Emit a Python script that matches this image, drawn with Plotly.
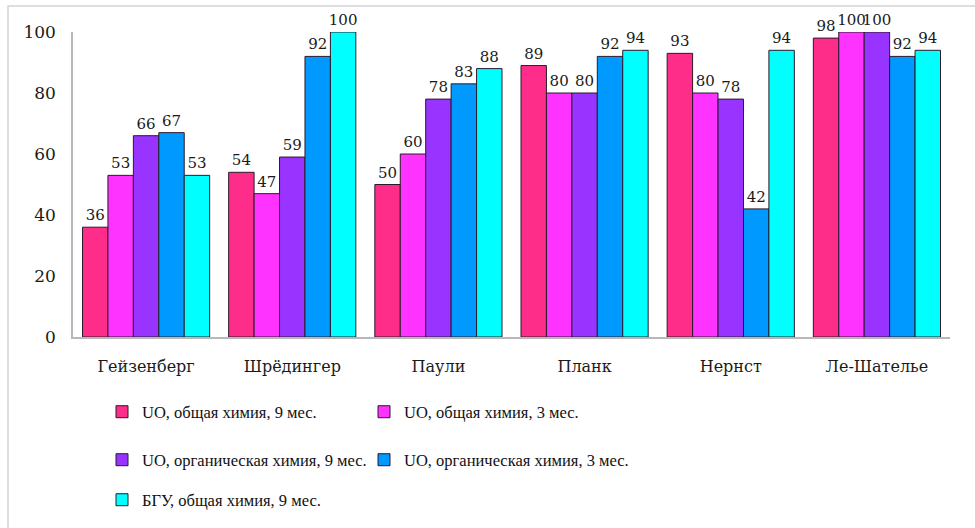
import plotly.graph_objects as go

# Categories (scientist names) and series values, %
categories = ["Гейзенберг", "Шрёдингер", "Паули", "Планк", "Нернст", "Ле-Шателье"]
series_names = [
    "UO, общая химия, 9 мес.",
    "UO, общая химия, 3 мес.",
    "UO, органическая химия, 9 мес.",
    "UO, органическая химия, 3 мес.",
    "БГУ, общая химия, 9 мес.",
]
uo_general_9 = [36, 54, 50, 89, 93, 98]
uo_general_3 = [53, 47, 60, 80, 80, 100]
uo_organic_9 = [66, 59, 78, 80, 78, 100]
uo_organic_3 = [67, 92, 83, 92, 42, 92]
bsu_general_9 = [53, 100, 88, 94, 94, 94]
series_values = [uo_general_9, uo_general_3, uo_organic_9, uo_organic_3, bsu_general_9]
y_ticks = [0, 20, 40, 60, 80, 100]

colors = ["#FF2D8A", "#FF33FF", "#9933FF", "#0099FF", "#00FFFF"]

W, H = 975, 528
ML, MR, MT, MB = 73, 25, 32, 190
PW, PH = W - ML - MR, H - MT - MB


def px_to_paper_x(px):
    return (px - ML) / PW


def px_to_paper_y(py):
    return (H - MB - py) / PH


# one legend box per entry, laid out as a two-column grid below the chart
legend_ids = ["legend", "legend2", "legend3", "legend4", "legend5"]
legend_pos = [(102, 412), (364, 412), (102, 460), (364, 460), (102, 500)]

fig = go.Figure()
for name, vals, col, lg in zip(series_names, series_values, colors, legend_ids):
    fig.add_trace(go.Bar(
        name=name,
        x=categories,
        y=vals,
        marker=dict(color=col, line=dict(color="#2a1a2a", width=1)),
        text=[str(v) for v in vals],
        textposition="outside",
        textfont=dict(family="DejaVu Serif", size=15, color="#1a1a1a"),
        constraintext="none",
        cliponaxis=False,
        showlegend=True,
        legend=lg,
    ))

legend_common = dict(
    orientation="h",
    xref="paper", yref="paper",
    xanchor="left", yanchor="middle",
    font=dict(family="Liberation Serif", size=16.5, color="#111111"),
    bgcolor="rgba(0,0,0,0)",
)
legends = {
    lg: dict(legend_common, x=px_to_paper_x(px), y=px_to_paper_y(py))
    for lg, (px, py) in zip(legend_ids, legend_pos)
}

fig.update_layout(
    width=W, height=H,
    margin=dict(l=ML, r=MR, t=MT, b=MB),
    paper_bgcolor="white",
    plot_bgcolor="white",
    showlegend=True,
    barmode="group",
    bargap=0.13,
    bargroupgap=0,
    xaxis=dict(
        showline=True, linecolor="#b8b8b8", linewidth=1.5,
        showgrid=False, ticks="outside", ticklen=0,
        ticklabelstandoff=14,
        tickfont=dict(family="DejaVu Serif", size=16, color="#1a1a1a"),
    ),
    yaxis=dict(
        range=[0, 100],
        tickvals=y_ticks,
        showline=True, linecolor="#b8b8b8", linewidth=1.5,
        showgrid=False, zeroline=False, ticks="outside", ticklen=0,
        ticklabelstandoff=12,
        tickfont=dict(family="DejaVu Serif", size=17, color="#1a1a1a"),
    ),
    shapes=[dict(
        type="rect", xref="paper", yref="paper",
        x0=px_to_paper_x(8), x1=px_to_paper_x(990),
        y0=px_to_paper_y(540), y1=px_to_paper_y(6),
        line=dict(color="#d4d4d4", width=1.5),
        fillcolor="rgba(0,0,0,0)", layer="below",
    )],
    **legends,
)

fig.write_html("out.html")
